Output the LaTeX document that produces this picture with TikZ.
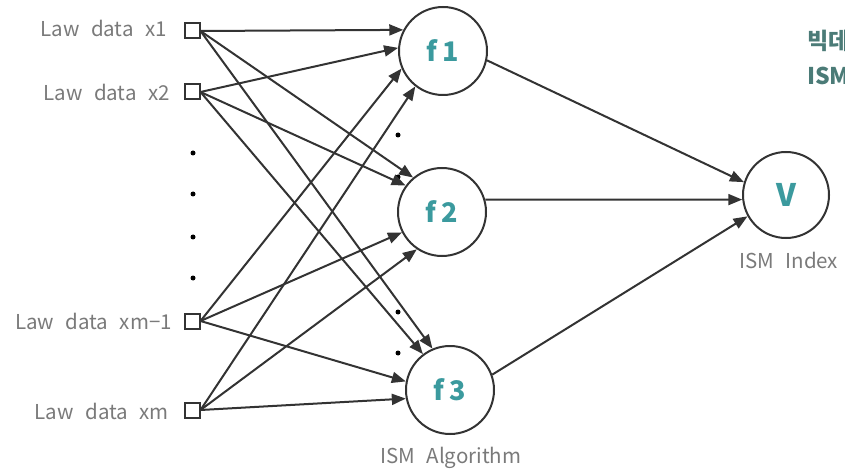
\documentclass[tikz,border=0pt]{standalone}
\usepackage{fontspec}
\setmainfont[WordSpace=2.5]{Noto Sans CJK KR}
\usetikzlibrary{arrows.meta}
\definecolor{linec}{HTML}{333333}
\definecolor{labc}{HTML}{7A7A7A}
\definecolor{tealc}{HTML}{3B9A9E}
\definecolor{darkteal}{HTML}{4B7B77}
\tikzset{
  conn/.style={draw=linec, line width=2pt, -{Triangle[length=14pt,width=11pt]}},
  fnode/.style={circle, draw=linec, line width=2pt, minimum size=88pt, inner sep=0pt, font=\fontsize{27}{29}\selectfont\bfseries, text=tealc},
  inbox/.style={rectangle, draw=linec, line width=2pt, minimum width=15pt, minimum height=15pt, inner sep=0pt, fill=white},
  lab/.style={text=labc, font=\fontsize{20.5}{22}\selectfont, inner sep=0pt},
  dotc/.style={circle, fill=black, minimum size=5pt, inner sep=0pt},
  korean/.style={text=darkteal, font=\fontsize{23}{25}\selectfont\bfseries, inner sep=0pt, anchor=base west}
}
\begin{document}
\begin{tikzpicture}[x=1pt,y=-1pt]
\useasboundingbox (0,0) rectangle (845,470);
% input boxes
\node[inbox] (x1) at (192,31) {};
\node[inbox] (x2) at (192,92) {};
\node[inbox] (xm1) at (192,321) {};
\node[inbox] (xm) at (192,410) {};
% labels
\node[lab, anchor=base east] (lx1) at (167,37) {Law data x1};
\node[lab, anchor=base east] (lx2) at (170,101) {Law data x2};
\node[lab, anchor=base east] (lxm1) at (172,329) {Law data xm−1};
\node[lab, anchor=base east] (lxm) at (169,419) {Law data xm};
% dots left
\node[dotc] (d1) at (193,153) {};
\node[dotc] (d2) at (193,194) {};
\node[dotc] (d3) at (193,237) {};
\node[dotc] (d4) at (193,278) {};
% function nodes
\node[fnode] (f1) at (443,51) {f\hspace{5pt}1};
\node[fnode] (f2) at (442,212) {f\hspace{5pt}2};
\node[fnode] (f3) at (450,390) {f\hspace{5pt}3};
\node[fnode, minimum size=86pt, font=\fontsize{31}{33}\selectfont\bfseries] (v) at (786,195) {V};
% dots middle
\node[dotc] (m1) at (398,135) {};
\node[dotc] (m2) at (398,177) {};
\node[dotc] (m3) at (398,312) {};
\node[dotc] (m4) at (398,353) {};
% connectors inputs -> f
\draw[conn] (x1.east) -- (f1.152);
\draw[conn] (x2.east) -- (f1.176);
\draw[conn] (xm1.east) -- (f1.203);
\draw[conn] (xm.east) -- (f1.232);
\draw[conn] (x1.east) -- (f2.130);
\draw[conn] (x2.east) -- (f2.144);
\draw[conn] (xm1.east) -- (f2.207);
\draw[conn] (xm.east) -- (f2.236);
\draw[conn] (x1.east) -- (f3.113);
\draw[conn] (x2.east) -- (f3.127);
\draw[conn] (xm1.east) -- (f3.169);
\draw[conn] (xm.east) -- (f3.191);
% f -> V
\draw[conn] (f1.-12) -- (v.163);
\draw[conn] (f2.16) -- (v.186);
\draw[conn] (f3.20) -- (v.209);
% redraw boxes on top
\node[inbox] at (x1) {};
\node[inbox] at (x2) {};
\node[inbox] at (xm1) {};
\node[inbox] at (xm) {};
% captions
\node[lab, anchor=base west] (cap1) at (380,463) {ISM Algorithm};
\node[lab, anchor=base west] (cap2) at (739,269) {ISM Index};
% top right (cut off at the edge, as in the reference)
\node[korean] (k1) at (807,50) {빅데};
\node[korean] (k2) at (807,85) {ISM};
\end{tikzpicture}
\end{document}
